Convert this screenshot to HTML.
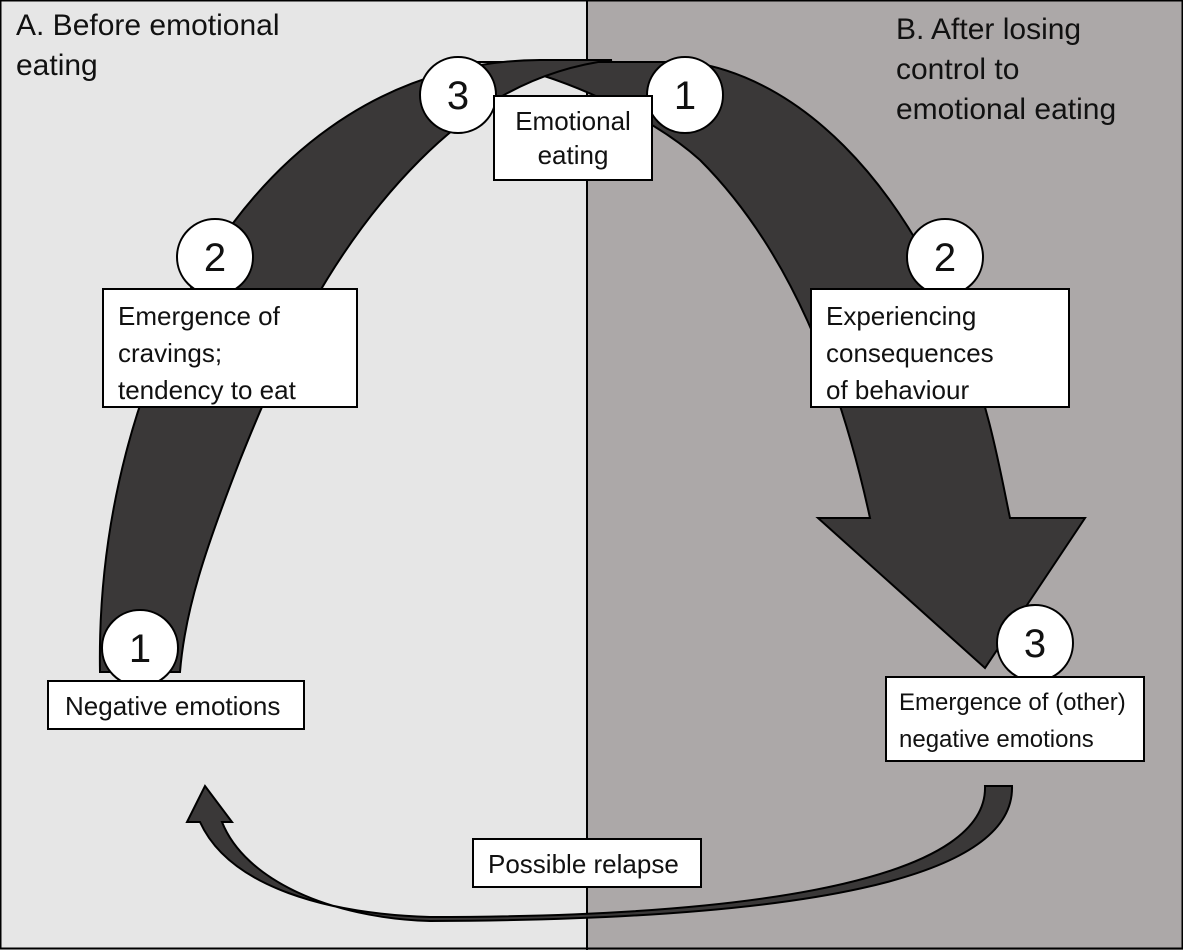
<!DOCTYPE html>
<html><head><style>
body{margin:0}
.w{position:relative;width:1183px;height:950px;overflow:hidden;font-family:"Liberation Sans",sans-serif;background:#e6e6e6}
.r{position:absolute;left:586px;top:0;width:597px;height:950px;background:#aca8a8;border-left:2px solid #000}
.b{position:absolute;background:#fff;border:2px solid #000;font-size:26px;line-height:34px;box-sizing:border-box;color:#111;white-space:nowrap}
.t{position:absolute;font-size:30px;line-height:40px;color:#111}
svg{position:absolute;left:0;top:0}
</style></head><body><div class="w">
<div class="r"></div>
<svg width="1183" height="950">
<rect x="0.5" y="0.5" width="1182" height="948" fill="none" stroke="#000" stroke-width="2"/>
<path d="M440,62 L690,62 C800,78 900,180 960,330 C990,410 1000,470 1010,518 L1085,518 L985,668 L818,518 L870,518 C840,380 790,250 700,160 C650,115 560,75 490,62 Z" fill="#3a3838" stroke="#000" stroke-width="2"/>
<path d="M100,672 C95,380 250,62 540,60 L612,60 C530,70 470,110 420,160 C330,250 280,360 240,460 C205,550 185,610 180,672 Z" fill="#3a3838" stroke="#000" stroke-width="2"/>
<path d="M1012,786 C1015,880 800,920 430,921 C330,918 245,880 222,822 L232,822 L205,786 L187,822 L200,822 C230,888 330,914 430,917 C790,917 988,872 985,786 Z" fill="#3a3838" stroke="#000" stroke-width="2"/>
<g fill="#fff" stroke="#000" stroke-width="2" font-family="Liberation Sans" font-size="40" text-anchor="middle">
<circle cx="140" cy="648" r="38"/><circle cx="215" cy="257" r="38"/><circle cx="458" cy="95" r="38"/><circle cx="685" cy="95" r="38"/><circle cx="945" cy="257" r="38"/><circle cx="1035" cy="643" r="38"/>
<g fill="#111" stroke="none"><text x="140" y="662">1</text><text x="215" y="271">2</text><text x="458" y="109">3</text><text x="685" y="109">1</text><text x="945" y="271">2</text><text x="1035" y="657">3</text></g>
</g>
</svg>
<div class="t" style="left:16px;top:6px">A. Before emotional<br>eating</div>
<div class="t" style="left:896px;top:10px">B. After losing<br>control to<br>emotional eating</div>
<div class="b" style="left:47px;top:680px;width:258px;height:50px;padding:7px 0 0 16px">Negative emotions</div>
<div class="b" style="left:102px;top:288px;width:256px;height:120px;padding:8px 0 0 14px;line-height:37px">Emergence of<br>cravings;<br>tendency to eat</div>
<div class="b" style="left:493px;top:95px;width:160px;height:86px;padding:7px 0 0 0;text-align:center">Emotional<br>eating</div>
<div class="b" style="left:810px;top:288px;width:260px;height:120px;padding:8px 0 0 14px;line-height:37px">Experiencing<br>consequences<br>of behaviour</div>
<div class="b" style="left:885px;top:676px;width:260px;height:86px;padding:6px 0 0 12px;line-height:37px;font-size:24px">Emergence of (other)<br>negative emotions</div>
<div class="b" style="left:472px;top:838px;width:230px;height:50px;padding:7px 0 0 14px">Possible relapse</div>
</div></body></html>
